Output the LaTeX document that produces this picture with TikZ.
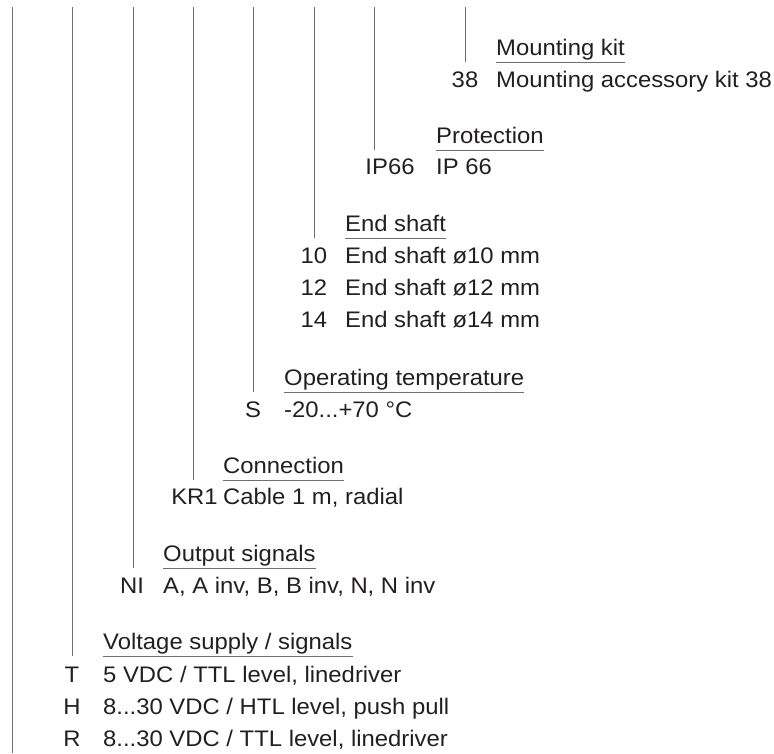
\documentclass[tikz,border=0pt]{standalone}
\usepackage{fontspec}
\setmainfont{Liberation Sans}[FakeStretch=1.06]
\definecolor{txt}{HTML}{231F20}
\definecolor{ln}{HTML}{6D6E71}
\begin{document}
\begin{tikzpicture}[x=1pt,y=-1pt,
  lbl/.style={font=\fontsize{22.5}{27}\selectfont, text=txt, inner sep=0pt, anchor=base west},
  codelbl/.style={font=\fontsize{22.5}{27}\selectfont, text=txt, inner sep=0pt, anchor=base},
  conn/.style={draw=ln, line width=1pt},
  uline/.style={draw=ln, line width=1pt}]
\useasboundingbox (0,0) rectangle (774,753);

% leftmost line
\coordinate (p0) at (12,7);
\coordinate (e0) at (12,753);
\draw[conn] (p0) -- (e0);

% 1 Mounting kit
\node[lbl] (t1) at (496,55) {Mounting kit};
\coordinate (u1) at ([yshift=-7pt]t1.base west);
\draw[uline] (u1) -- ([yshift=-7pt]t1.base east);
\coordinate (p1) at (465,7);
\draw[conn] (p1) -- (p1 |- u1);
\node[codelbl] (c1a) at (465,87) {38};
\node[lbl] (v1a) at (496,87) {Mounting accessory kit 38};

% 2 Protection
\node[lbl] (t2) at (436,143) {Protection};
\coordinate (u2) at ([yshift=-7pt]t2.base west);
\draw[uline] (u2) -- ([yshift=-7pt]t2.base east);
\coordinate (p2) at (374,7);
\draw[conn] (p2) -- (p2 |- u2);
\node[codelbl] (c2a) at (390,174) {IP66};
\node[lbl] (v2a) at (436,174) {IP 66};

% 3 End shaft
\node[lbl] (t3) at (345,231) {End shaft};
\coordinate (u3) at ([yshift=-7pt]t3.base west);
\draw[uline] (u3) -- ([yshift=-7pt]t3.base east);
\coordinate (p3) at (314,7);
\draw[conn] (p3) -- (p3 |- u3);
\node[codelbl] (c3a) at (314,263) {10};
\node[lbl] (v3a) at (345,263) {End shaft ø10 mm};
\node[codelbl] (c3b) at (314,295) {12};
\node[lbl] (v3b) at (345,295) {End shaft ø12 mm};
\node[codelbl] (c3c) at (314,327) {14};
\node[lbl] (v3c) at (345,327) {End shaft ø14 mm};

% 4 Operating temperature
\node[lbl] (t4) at (284,385) {Operating temperature};
\coordinate (u4) at ([yshift=-7pt]t4.base west);
\draw[uline] (u4) -- ([yshift=-7pt]t4.base east);
\coordinate (p4) at (253,7);
\draw[conn] (p4) -- (p4 |- u4);
\node[codelbl] (c4a) at (253,417) {S};
\node[lbl] (v4a) at (284,417) {-20...+70 °C};

% 5 Connection
\node[lbl] (t5) at (223,473) {Connection};
\coordinate (u5) at ([yshift=-7pt]t5.base west);
\draw[uline] (u5) -- ([yshift=-7pt]t5.base east);
\coordinate (p5) at (193,7);
\draw[conn] (p5) -- (p5 |- u5);
\node[codelbl] (c5a) at (194.5,504) {KR1};
\node[lbl] (v5a) at (223,504) {Cable 1 m, radial};

% 6 Output signals
\node[lbl] (t6) at (163,561) {Output signals};
\coordinate (u6) at ([yshift=-7pt]t6.base west);
\draw[uline] (u6) -- ([yshift=-7pt]t6.base east);
\coordinate (p6) at (133,7);
\draw[conn] (p6) -- (p6 |- u6);
\node[codelbl] (c6a) at (132,593) {NI};
\node[lbl] (v6a) at (163,593) {A, A inv, B, B inv, N, N inv};

% 7 Voltage supply / signals
\node[lbl] (t7) at (103,649) {Voltage supply / signals};
\coordinate (u7) at ([yshift=-7pt]t7.base west);
\draw[uline] (u7) -- ([yshift=-7pt]t7.base east);
\coordinate (p7) at (72,7);
\draw[conn] (p7) -- (p7 |- u7);
\node[codelbl] (c7a) at (72,682) {T};
\node[lbl] (v7a) at (103,682) {5 VDC / TTL level, linedriver};
\node[codelbl] (c7b) at (72,714) {H};
\node[lbl] (v7b) at (103,714) {8...30 VDC / HTL level, push pull};
\node[codelbl] (c7c) at (72,746) {R};
\node[lbl] (v7c) at (103,746) {8...30 VDC / TTL level, linedriver};
\end{tikzpicture}
\end{document}
